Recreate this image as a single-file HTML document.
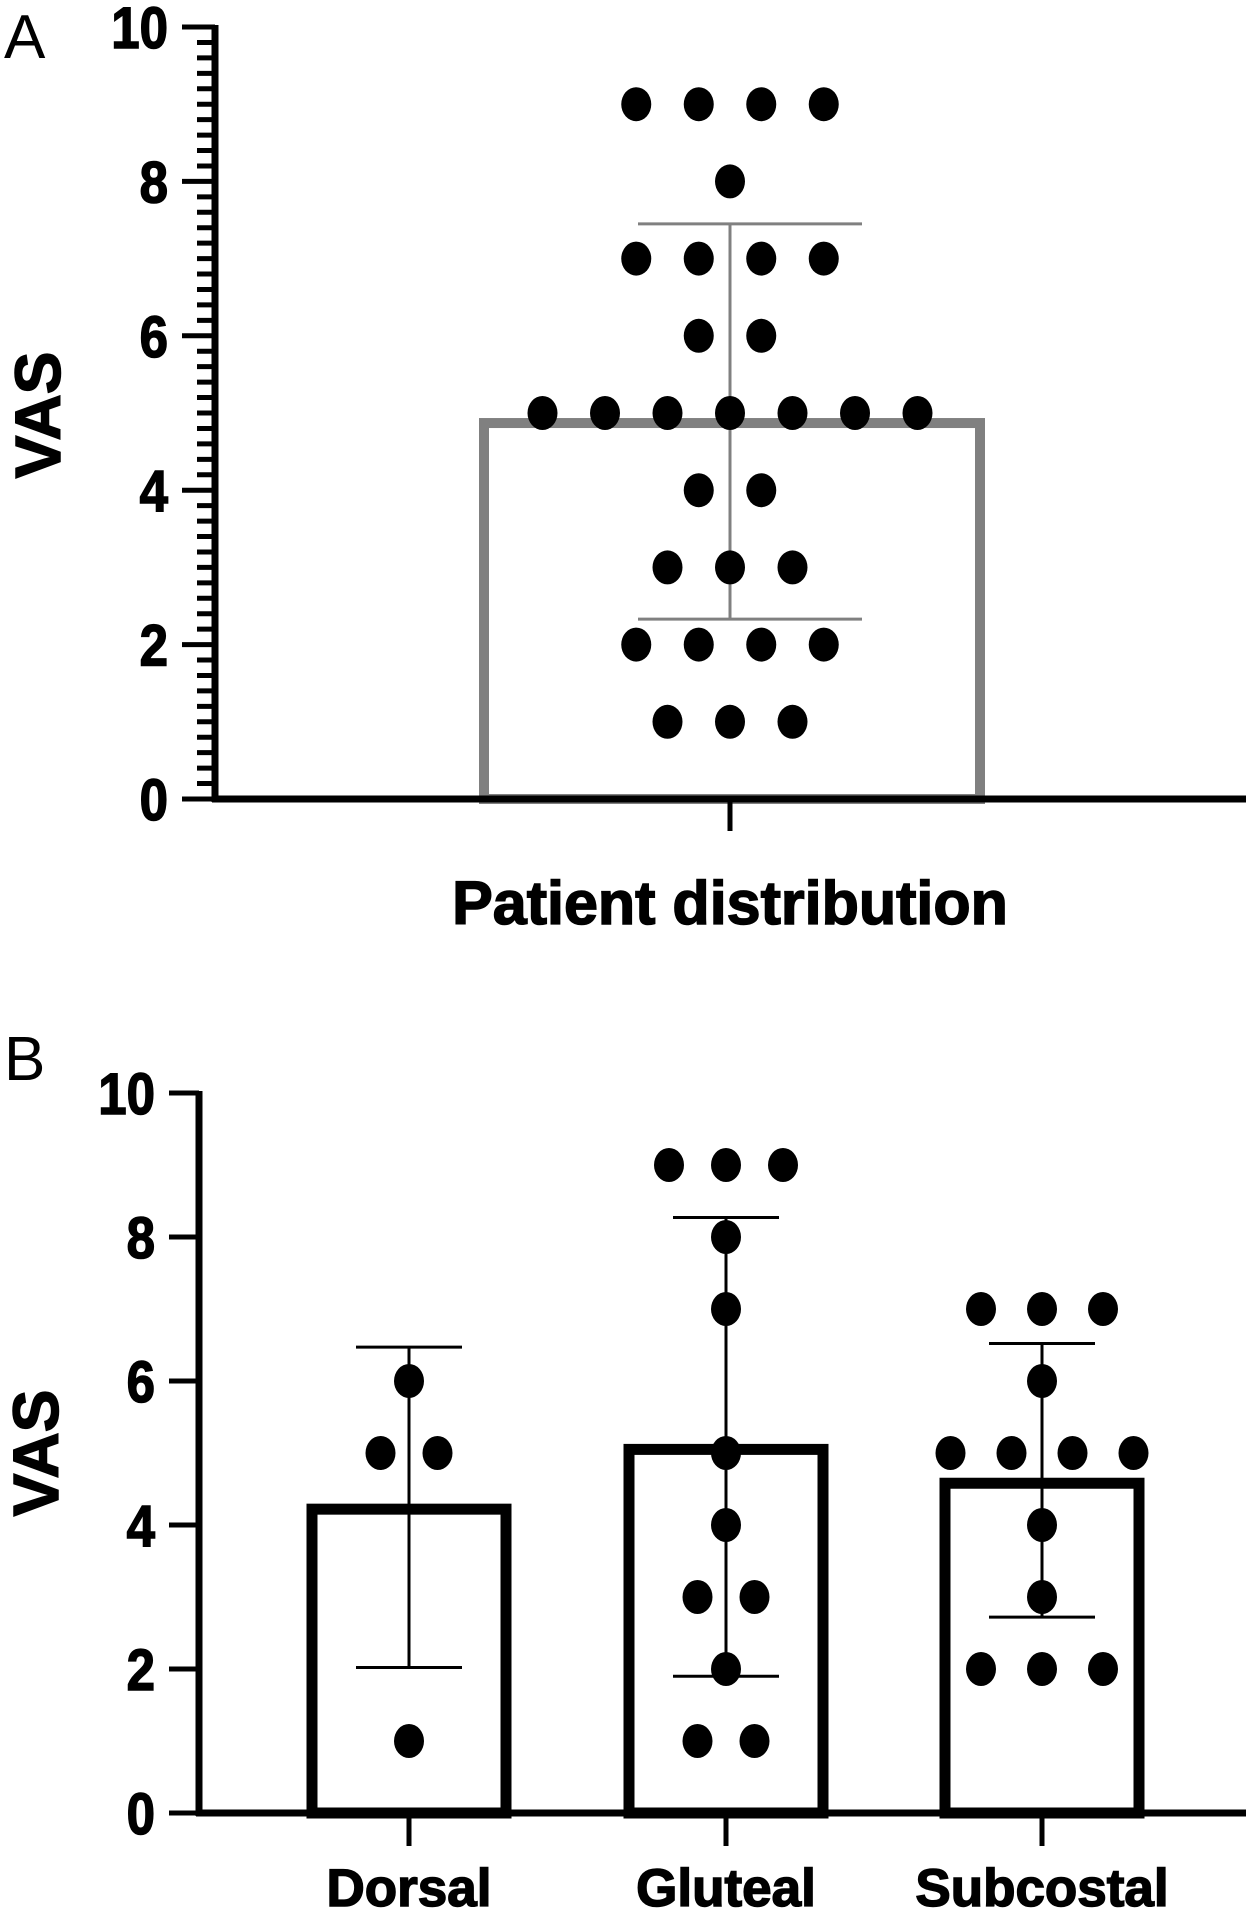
<!DOCTYPE html>
<html><head><meta charset="utf-8"><style>
html,body{margin:0;padding:0;background:#fff;}
svg{display:block;font-family:"Liberation Sans",Arial,sans-serif;}
.tl{font-weight:bold;font-size:58px;stroke:#000;stroke-width:1.5;}
.bt{font-weight:bold;stroke:#000;stroke-width:1.5;}
</style></head><body>
<svg id="chart" width="1258" height="1914" viewBox="0 0 1258 1914" xmlns="http://www.w3.org/2000/svg">
<text x="4" y="58" font-size="62">A</text>
<text x="4" y="1080" font-size="62">B</text>
<text class="bt" transform="translate(60,415) rotate(-90)" text-anchor="middle" font-size="64">VAS</text>
<text class="bt" transform="translate(58,1453) rotate(-90)" text-anchor="middle" font-size="64">VAS</text>
<g id="ga"></g>
<g id="gb"></g>
</svg>
<script>
const yTicks = [0,2,4,6,8,10];
const aCategory = ["Patient distribution"];
const aValues = [9,9,9,9,8,7,7,7,7,6,6,5,5,5,5,5,5,5,4,4,3,3,3,2,2,2,2,1,1,1];
const aMean = [4.87];
const aLower = [2.33];
const aUpper = [7.45];
const bCategories = ["Dorsal","Gluteal","Subcostal"];
const bDorsal = [6,5,5,1];
const bGluteal = [9,9,9,8,7,5,4,3,3,2,1,1];
const bSubcostal = [7,7,7,6,5,5,5,5,4,3,2,2,2];
const bMeans = [4.22,5.05,4.58];
const bLower = [2.02,1.9,2.72];
const bUpper = [6.47,8.27,6.52];

const NS="http://www.w3.org/2000/svg";
function mk(parent,tag,attrs){const e=document.createElementNS(NS,tag);for(const k in attrs)e.setAttribute(k,attrs[k]);parent.appendChild(e);return e;}
function dots(g,vals,cx,y,spacing,name){
  const groups={};vals.forEach(v=>{(groups[v]=groups[v]||[]).push(v);});
  for(const v in groups){const n=groups[v].length;
    for(let i=0;i<n;i++){
      const e=mk(g,'ellipse',{cx:cx+(i-(n-1)/2)*spacing,cy:y(+v),rx:15,ry:17,fill:'#000'});
      
      
    }}
}
// Panel A
(function(){
  const g=document.getElementById('ga');
  const y0=799,unit=77.2,ax=215;
  const y=v=>y0-v*unit;
  for(let k=0;k<=50;k++){
    const v=k*0.2;const major=k%10===0;
    const t=mk(g,'line',{x1:major?182:197,x2:ax,y1:y(v),y2:y(v),stroke:'#000','stroke-width':5});
    
    
  }
  yTicks.forEach(v=>{const t=mk(g,'text',{x:168,y:y(v)+21,'text-anchor':'end',class:'tl',transform:'translate(20.2,0) scale(0.88,1)'});t.textContent=v;
    });
  const cx=730;
  const bar=mk(g,'rect',{x:484,y:y(aMean[0]),width:496,height:y0-y(aMean[0]),fill:'none',stroke:'#808080','stroke-width':10});
  
  const eb=mk(g,'g',{stroke:'#808080','stroke-width':3});
  
  mk(eb,'line',{x1:cx,x2:cx,y1:y(aUpper[0]),y2:y(aLower[0])});
  mk(eb,'line',{x1:638,x2:862,y1:y(aUpper[0]),y2:y(aUpper[0])});
  mk(eb,'line',{x1:638,x2:862,y1:y(aLower[0]),y2:y(aLower[0])});
  dots(g,aValues,cx,y,62.5,'data-point');
  const xa=mk(g,'line',{x1:212,x2:1246,y1:y0,y2:y0,stroke:'#000','stroke-width':7});
  
  const ya=mk(g,'line',{x1:ax,x2:ax,y1:25,y2:y0+3,stroke:'#000','stroke-width':7});
  
  mk(g,'line',{x1:cx,x2:cx,y1:y0,y2:831,stroke:'#000','stroke-width':5});
  const xl=mk(g,'text',{x:cx,y:924,'text-anchor':'middle','font-size':61,class:'bt'});
  xl.textContent=aCategory[0];
  
})();
// Panel B
(function(){
  const g=document.getElementById('gb');
  const y0=1813,unit=72,ax=199;
  const y=v=>y0-v*unit;
  yTicks.forEach(v=>{
    const t=mk(g,'line',{x1:169,x2:ax,y1:y(v),y2:y(v),stroke:'#000','stroke-width':5});
    
    const l=mk(g,'text',{x:155,y:y(v)+21,'text-anchor':'end',class:'tl',transform:'translate(18.6,0) scale(0.88,1)'});
    l.textContent=v;
    
  });
  const centers=[409,726,1042];
  const series=[bDorsal,bGluteal,bSubcostal];
  const spac=[57,57,61];
  bCategories.forEach((c,i)=>{
    const cx=centers[i];
    const bar=mk(g,'rect',{x:cx-97,y:y(bMeans[i]),width:194,height:y0-y(bMeans[i]),fill:'none',stroke:'#000','stroke-width':11});
    
    const eb=mk(g,'g',{stroke:'#000','stroke-width':3});
    
    mk(eb,'line',{x1:cx,x2:cx,y1:y(bUpper[i]),y2:y(bLower[i])});
    mk(eb,'line',{x1:cx-53,x2:cx+53,y1:y(bUpper[i]),y2:y(bUpper[i])});
    mk(eb,'line',{x1:cx-53,x2:cx+53,y1:y(bLower[i]),y2:y(bLower[i])});
    dots(g,series[i],cx,y,spac[i],'data-point-'+c.toLowerCase());
    mk(g,'line',{x1:cx,x2:cx,y1:y0,y2:1846,stroke:'#000','stroke-width':5});
    const l=mk(g,'text',{x:cx,y:1906,'text-anchor':'middle','font-size':53,class:'bt'});
    l.textContent=c;
    
  });
  const xa=mk(g,'line',{x1:196,x2:1246,y1:y0,y2:y0,stroke:'#000','stroke-width':7});
  
  const ya=mk(g,'line',{x1:ax,x2:ax,y1:1091,y2:y0+3,stroke:'#000','stroke-width':7});
  
})();
</script>
</body></html>
